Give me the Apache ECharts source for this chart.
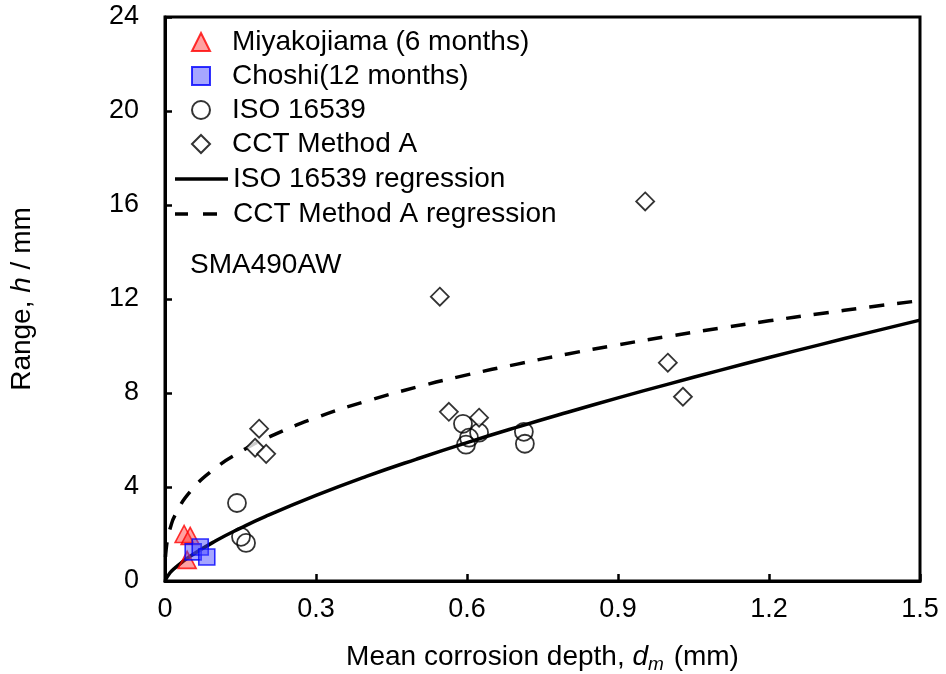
<!DOCTYPE html>
<html><head><meta charset="utf-8">
<script src="https://cdn.jsdelivr.net/npm/echarts@6/dist/echarts.min.js"></script>
<style>html,body{margin:0;padding:0;background:#fff}#c{width:946px;height:674px}</style>
</head><body><div id="c"></div>
<script>
// Data: [mean corrosion depth (mm), range h (mm)]
const miyakojima = [[0.038, 2.0], [0.050, 1.92], [0.044, 0.90]];
const choshi = [[0.056, 1.24], [0.070, 1.45], [0.083, 1.02]];
const iso16539 = [[0.143, 3.32], [0.151, 1.88], [0.161, 1.62], [0.592, 6.69], [0.604, 6.10], [0.598, 5.80], [0.624, 6.31], [0.713, 6.35], [0.715, 5.84]];
const cctA = [[0.187, 6.48], [0.179, 5.67], [0.201, 5.41], [0.546, 12.1], [0.564, 7.20], [0.624, 6.95], [0.954, 16.15], [0.999, 9.29], [1.029, 7.84]];
const isoRegD = [0, 0.01, 0.02, 0.05, 0.1, 0.15, 0.2, 0.3, 0.4, 0.5, 0.6, 0.7, 0.8, 0.9, 1.0, 1.1, 1.2, 1.3, 1.4, 1.5];
const isoRegH = [0, 0.35, 0.56, 1.05, 1.70, 2.25, 2.75, 3.64, 4.45, 5.19, 5.89, 6.55, 7.18, 7.79, 8.38, 8.95, 9.51, 10.05, 10.58, 11.10];
const cctRegD = [0.001, 0.002, 0.005, 0.01, 0.02, 0.05, 0.1, 0.15, 0.2, 0.3, 0.4, 0.5, 0.6, 0.7, 0.8, 0.9, 1.0, 1.1, 1.2, 1.3, 1.4, 1.5];
const cctRegH = [1.02, 1.29, 1.76, 2.22, 2.80, 3.80, 4.80, 5.50, 6.06, 6.95, 7.65, 8.25, 8.77, 9.23, 9.66, 10.05, 10.41, 10.75, 11.07, 11.37, 11.66, 11.93];
const xTicks = {min: 0, max: 1.5, interval: 0.3};
const yTicks = {min: 0, max: 24, interval: 4};
const markerNames = ['Miyakojiama (6 months)', 'Choshi(12 months)', 'ISO 16539', 'CCT Method A'];
const solidName = 'ISO 16539 regression';
const dashName = 'CCT Method A regression';
const steelLabel = 'SMA490AW';

const font = 'Liberation Sans, Arial, sans-serif';
const chart = echarts.init(document.getElementById('c'), null, {renderer: 'canvas'});
const zip = (a, b) => a.map((v, i) => [v, b[i]]);
const legendText = {fontSize: 28, fontFamily: font, color: '#000', lineHeight: 28};
const option = {
  backgroundColor: '#fff',
  animation: false,
  grid: {left: 165, right: 26, top: 17, bottom: 93, outerBoundsMode: 'none', containLabel: false,
    show: true, borderColor: '#000', borderWidth: 3, backgroundColor: 'transparent'},
  xAxis: {
    type: 'value', min: xTicks.min, max: xTicks.max, interval: xTicks.interval,
    axisLine: {show: true, onZero: false, lineStyle: {color: '#000', width: 3}},
    axisTick: {show: true, inside: true, length: 7, lineStyle: {color: '#000', width: 2.5}},
    splitLine: {show: false},
    axisLabel: {color: '#000', fontSize: 27, fontFamily: font, margin: 15, formatter: v => (v === 0 ? '0' : String(+v.toFixed(1)))},
    name: '{a|Mean corrosion depth, }{i|d}{s|m}{a| (mm)}',
    nameLocation: 'middle', nameGap: 60,
    nameTextStyle: {rich: {
      a: {fontSize: 28, fontFamily: font, color: '#000'},
      i: {fontSize: 28, fontFamily: font, fontStyle: 'italic', color: '#000'},
      s: {fontSize: 19, fontFamily: font, fontStyle: 'italic', color: '#000', verticalAlign: 'bottom', padding: [14, 2, 0, 0]}
    }}
  },
  yAxis: {
    type: 'value', min: yTicks.min, max: yTicks.max, interval: yTicks.interval,
    axisLine: {show: true, onZero: false, lineStyle: {color: '#000', width: 3}},
    axisTick: {show: true, inside: true, length: 7, lineStyle: {color: '#000', width: 2.5}},
    splitLine: {show: false},
    axisLabel: {color: '#000', fontSize: 27, fontFamily: font, margin: 26},
    name: '{a|Range, }{i|h}{a| / mm}',
    nameLocation: 'middle', nameGap: 129, nameRotate: 90,
    nameTextStyle: {rich: {
      a: {fontSize: 28, fontFamily: font, color: '#000'},
      i: {fontSize: 28, fontFamily: font, fontStyle: 'italic', color: '#000'}
    }}
  },
  legend: [
    {left: 186, top: 23, orient: 'vertical', itemWidth: 18, itemHeight: 18, itemGap: 6.0,
      textStyle: Object.assign({padding: [0, 0, 0, 17]}, legendText), data: markerNames},
    {left: 170, top: 160, orient: 'vertical', itemWidth: 53, itemHeight: 3.5, itemGap: 6,
      textStyle: legendText, data: [{name: solidName, icon: 'path://M0,0h53v3.5h-53z'}]},
    {left: 170, top: 195, orient: 'vertical', itemWidth: 42, itemHeight: 3.5, itemGap: 6,
      textStyle: Object.assign({padding: [0, 0, 0, 11]}, legendText), data: [{name: dashName, icon: 'path://M0,0h13v3.5h-13z M28,0h14v3.5h-14z'}]}
  ],
  graphic: [{type: 'text', left: 190, top: 251, style: {text: steelLabel, font: '28px ' + font, fill: '#000'}}],
  series: [
    {name: solidName, type: 'line', data: zip(isoRegD, isoRegH), showSymbol: false, symbol: 'none', smooth: true, z: 1,
      lineStyle: {color: '#000', width: 3.5}, itemStyle: {color: '#000'}},
    {name: dashName, type: 'line', data: zip(cctRegD, cctRegH), showSymbol: false, symbol: 'none', smooth: true, z: 1,
      lineStyle: {color: '#000', width: 3.5, type: [15, 13]}, itemStyle: {color: '#000'}},
    {name: 'ISO 16539', type: 'scatter', data: iso16539, symbol: 'circle', symbolSize: 18, z: 3,
      itemStyle: {color: 'rgba(255,255,255,0)', borderColor: '#000', borderWidth: 1.8}},
    {name: 'CCT Method A', type: 'scatter', data: cctA, symbol: 'diamond', symbolSize: [18, 18], z: 3,
      itemStyle: {color: '#fff', borderColor: '#000', borderWidth: 1.8}},
    {name: 'Miyakojiama (6 months)', type: 'scatter', data: miyakojima, symbol: 'triangle', symbolSize: [18, 17], z: 4,
      itemStyle: {color: 'rgba(255,40,40,0.55)', borderColor: '#ff0000', borderWidth: 1.6}},
    {name: 'Choshi(12 months)', type: 'scatter', data: choshi, symbol: 'rect', symbolSize: 16, z: 4,
      itemStyle: {color: 'rgba(70,70,255,0.6)', borderColor: '#0000ff', borderWidth: 1.6}}
  ]
};
chart.setOption(option);
</script></body></html>
